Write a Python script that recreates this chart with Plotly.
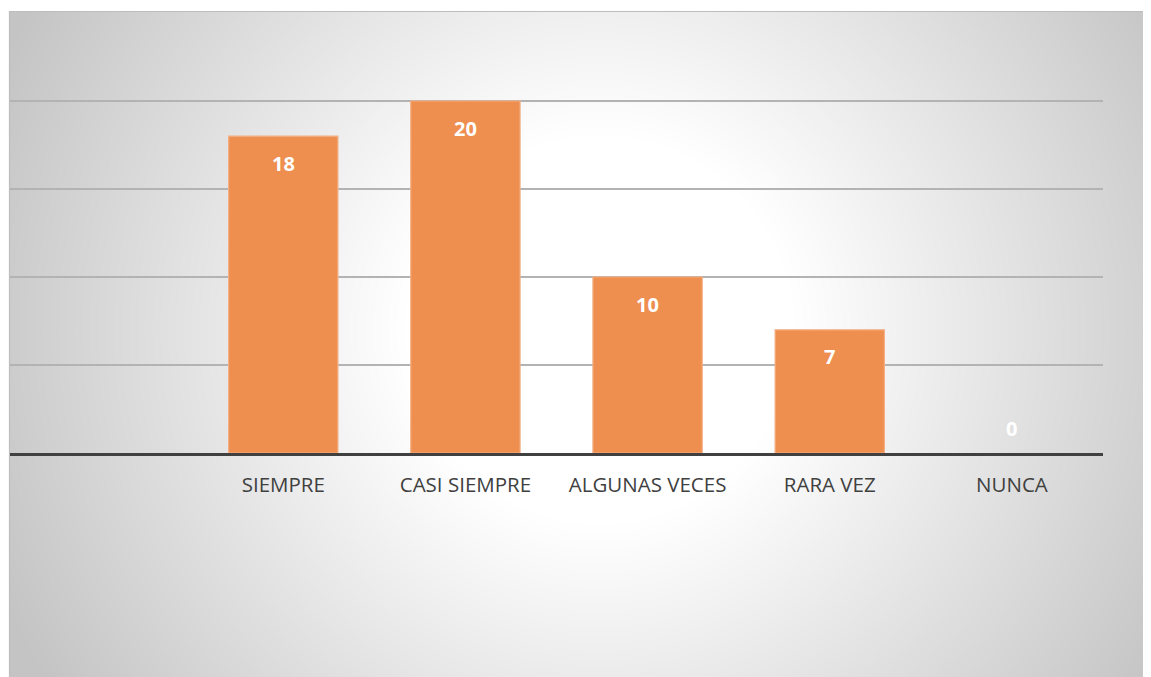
import plotly.graph_objects as go

categories = ["SIEMPRE", "CASI SIEMPRE", "ALGUNAS VECES", "RARA VEZ", "NUNCA"]
values = [18, 20, 10, 7, 0]

# page body adds an 8px offset; figure sized to fit the window
W, H = 1143, 669
ML, MR, MT, MB = 2, 48, 5, 224
PW, PH = W - ML - MR, H - MT - MB

def px2paper(xp, yp):
    return (xp - ML) / PW, (H - MB - yp) / PH

fig = go.Figure()
fig.add_trace(go.Bar(
    x=list(range(len(categories))), y=values,
    marker=dict(color="#EE8E4F",
                line=dict(color="#F4AE82", width=[1.2 if v > 0 else 0 for v in values])),
    width=0.6, hoverinfo="skip",
))

for i, v in enumerate(values):
    fig.add_annotation(x=i, y=v, xref="x", yref="y", text=f"<b>{v}</b>",
                       showarrow=False, yshift=(-27 if v > 0 else 25),
                       font=dict(family="Open Sans", size=20, color="white"))

# radial gradient background (chart area)
shapes = []
cx, cy = 592, 322
for g in range(196, 256):
    d = 255 - g
    r = 195 + d / 0.127
    if g == 196:
        r = 2000
    if g == 255:
        r = 195
    x0, y0 = px2paper(cx - r, cy + r)
    x1, y1 = px2paper(cx + r, cy - r)
    col = f"rgb({g},{g},{g})"
    shapes.append(dict(type="circle", xref="paper", yref="paper", x0=x0, y0=y0, x1=x1, y1=y1,
                       fillcolor=col, line=dict(width=0), layer="below"))
# white outside chart area (top and left)
a0, b0 = px2paper(-60, -60)
a1, b1 = px2paper(W + 60, 3)
shapes.append(dict(type="rect", xref="paper", yref="paper", x0=a0, y0=b1, x1=a1, y1=b0,
                   fillcolor="white", line=dict(width=0), layer="below"))
a0, b0 = px2paper(-60, -60)
a1, b1 = px2paper(1, H + 60)
shapes.append(dict(type="rect", xref="paper", yref="paper", x0=a0, y0=b1, x1=a1, y1=b0,
                   fillcolor="white", line=dict(width=0), layer="below"))
# chart area border
a0, b0 = px2paper(1.5, 3.5)
a1, b1 = px2paper(W + 5, H + 5)
shapes.append(dict(type="rect", xref="paper", yref="paper", x0=a0, y0=b1, x1=a1, y1=b0,
                   fillcolor="rgba(0,0,0,0)", line=dict(color="#BDBDBD", width=1.2), layer="below"))

fig.update_layout(
    width=W, height=H,
    margin=dict(l=ML, r=MR, t=MT, b=MB),
    paper_bgcolor="white", plot_bgcolor="rgba(0,0,0,0)",
    showlegend=False, shapes=shapes,
    xaxis=dict(range=[-1.5, len(categories) - 0.5], tickmode="array",
               tickvals=list(range(len(categories))), ticktext=categories,
               showgrid=False, zeroline=False, showline=True, linecolor="#404040", linewidth=3,
               ticks="", ticklabelstandoff=11,
               tickfont=dict(family="Open Sans", size=20.5, color="#404040")),
    yaxis=dict(range=[0, 25], dtick=5, showticklabels=False, showgrid=True,
               gridcolor="#B3B3B3", gridwidth=1.5, zeroline=False, showline=False),
)

fig.write_html("out.html")
